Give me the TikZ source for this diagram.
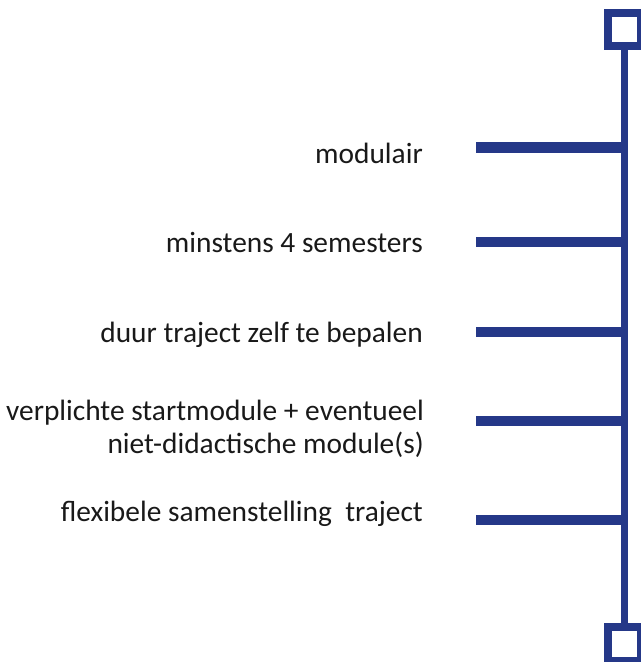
\documentclass[tikz,border=0pt]{standalone}
\usepackage{fontspec}
\setmainfont{Carlito}
\usetikzlibrary{positioning}
\definecolor{barblue}{RGB}{37,56,136}
\tikzset{
	endbox/.style={draw=barblue,line width=8bp,minimum size=33bp,inner sep=0pt,fill=white},
	spine/.style={draw=barblue,line width=7bp},
	tick/.style={draw=barblue,line width=10.5bp},
	item/.style={anchor=base east,font=\fontsize{29.5}{34.1}\selectfont,align=right,inner sep=0pt,text=black!90}
}
\begin{document}
\begin{tikzpicture}[x=1bp,y=1bp]
			\useasboundingbox (0,0) rectangle (641,662);
			\node[endbox] (top) at (624.5,632.5) {};
			\node[endbox] (bottom) at (624.5,18) {};
			\draw[spine] (top.south) -- (bottom.north);
			\coordinate (m1) at (476,514.5);
			\coordinate (m2) at (476,420);
			\coordinate (m3) at (476,330);
			\coordinate (m4) at (476,241);
			\coordinate (m5) at (476,142);
			\draw[tick] (m1) -- (m1 -| top);
			\draw[tick] (m2) -- (m2 -| top);
			\draw[tick] (m3) -- (m3 -| top);
			\draw[tick] (m4) -- (m4 -| top);
			\draw[tick] (m5) -- (m5 -| top);
			\node[item] (l1) at (423,498) {modulair};
			\node[item] (l2) at (423,409) {minstens 4 semesters};
			\node[item] (l3) at (423,319) {duur traject zelf te bepalen};
			% two lines: base is the last line
			\node[item] (l4) at (424,208) {verplichte startmodule + eventueel\\niet-didactische module(s)};
			\node[item] (l5) at (423,140) {flexibele samenstelling\ \ traject};
		\end{tikzpicture}
\end{document}
